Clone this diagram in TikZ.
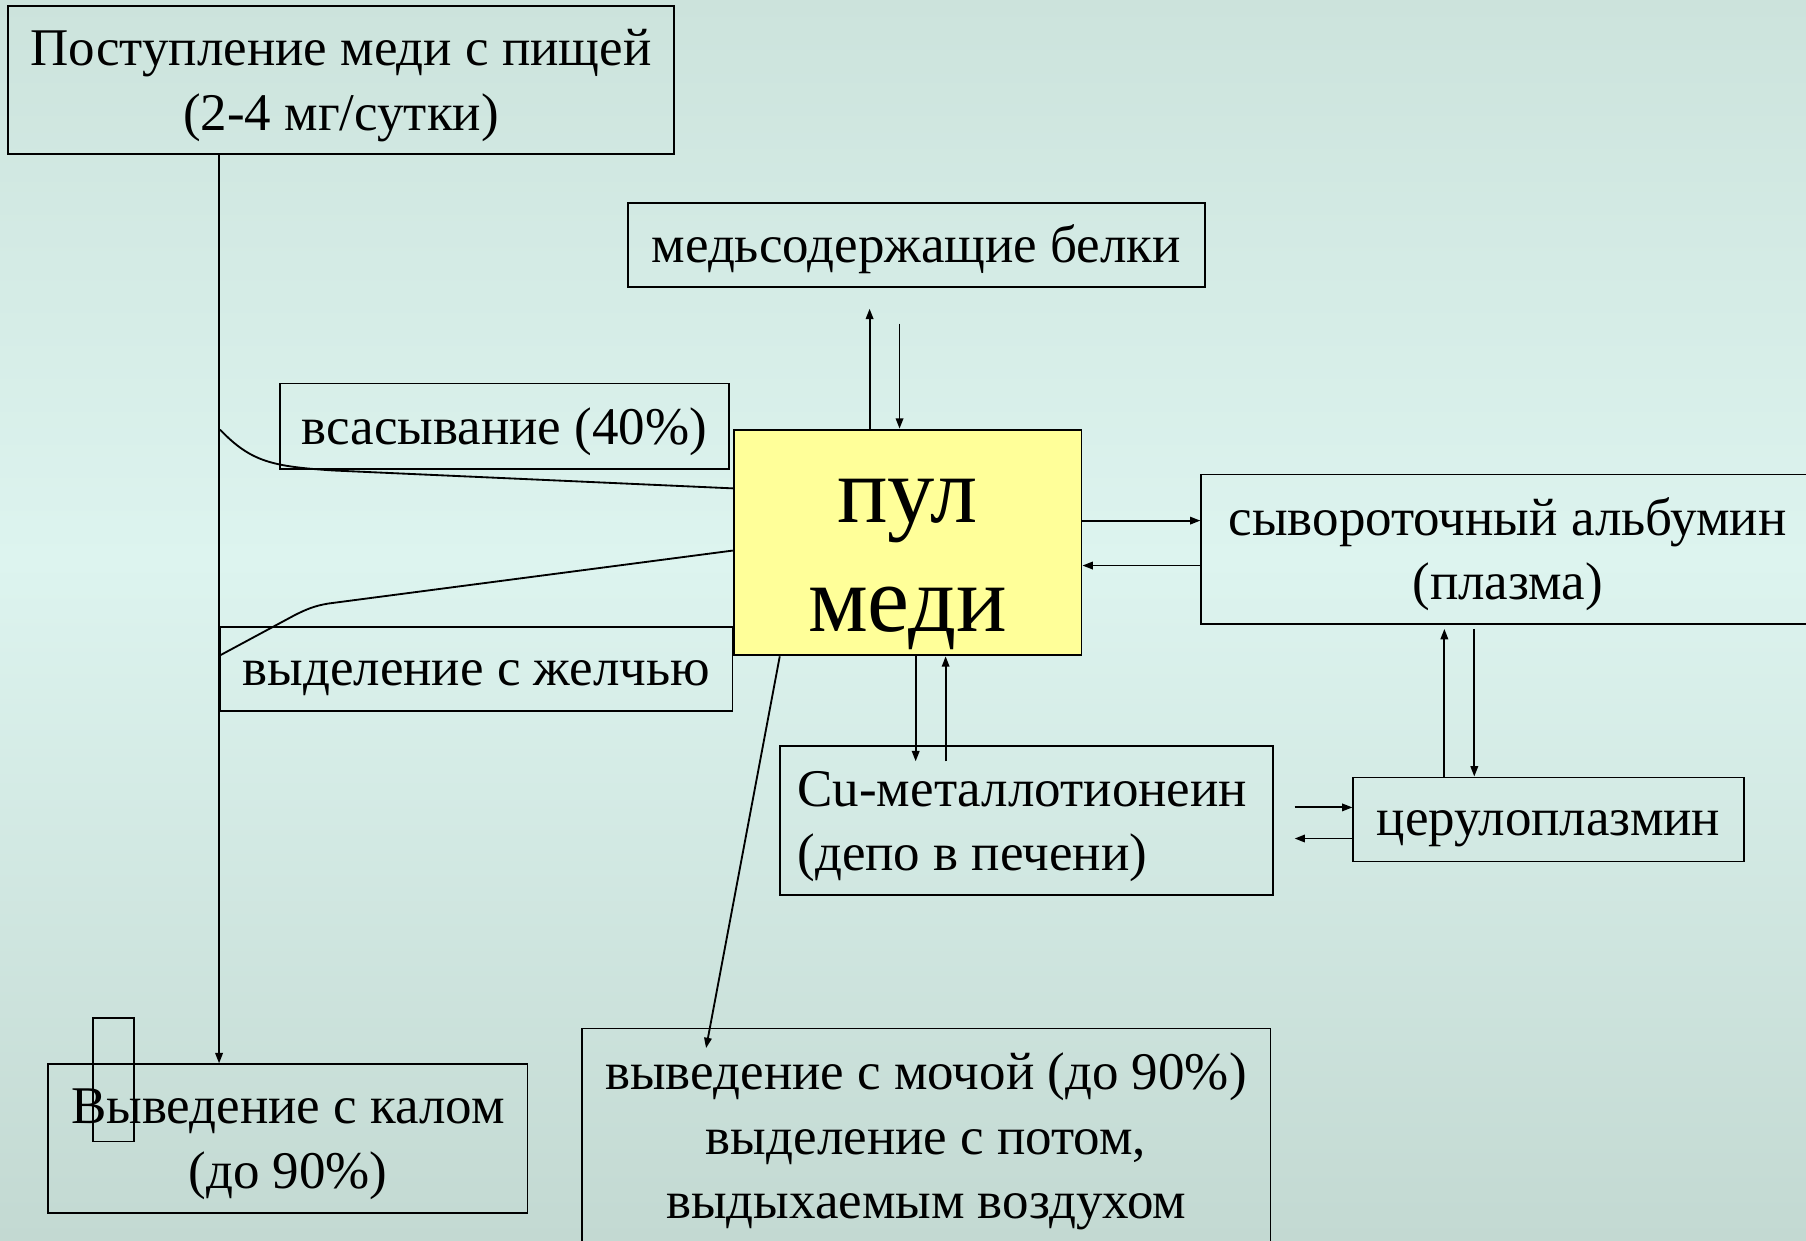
\documentclass[tikz,border=0pt]{standalone}
\usepackage{fontspec}
\setmainfont{Liberation Serif}
\usetikzlibrary{arrows.meta}
\definecolor{bgtop}{HTML}{CCE3DC}
\definecolor{bgmid}{HTML}{DDF4EF}
\definecolor{bgbot}{HTML}{C3D9D2}
\definecolor{poolfill}{HTML}{FFFF99}
\tikzset{
  frame/.style={draw=black, line width=1.6pt, rectangle, inner sep=0pt},
  txt/.style={inner sep=0pt, align=center, font=\fontsize{46}{56}\selectfont},
  bigtxt/.style={inner sep=0pt, align=center, font=\fontsize{82}{95}\selectfont},
  con/.style={draw=black, line width=1.6pt},
  arr/.style={con, -{Triangle[length=9pt,width=6.5pt]}},
}
\begin{document}
\begin{tikzpicture}[x=1pt,y=-1pt]
\useasboundingbox (0,0) rectangle (1568,1077);
\fill[top color=bgtop, bottom color=bgmid] (0,0) rectangle (1568,486);
\fill[top color=bgmid, bottom color=bgbot] (0,486) rectangle (1568,1077);

% frames
\node[frame, minimum width=578pt, minimum height=129pt] (food) at (296,69.5) {};
\node[frame, minimum width=501pt, minimum height=73pt] (proteins) at (795.5,212.5) {};
\node[frame, minimum width=390pt, minimum height=74pt] (absorb) at (438,370) {};
\node[frame, minimum width=302pt, minimum height=196pt, fill=poolfill] (pool) at (788,471) {};
\node[frame, minimum width=532pt, minimum height=130pt] (albumin) at (1309,477) {};
\node[frame, minimum width=445pt, minimum height=73pt] (bile) at (413.5,580.5) {};
\node[frame, minimum width=428pt, minimum height=129pt] (metallo) at (891,712.5) {};
\node[frame, minimum width=339pt, minimum height=73pt] (cerulo) at (1344.5,711.5) {};
\node[frame, minimum width=416pt, minimum height=129pt] (feces) at (250,988.5) {};
\node[frame, minimum width=598pt, minimum height=192pt] (urine) at (804,989) {};
\node[frame, minimum width=35pt, minimum height=107pt] (smallrect) at (98.5,937.5) {};

% texts
\node[txt] (foodT) at ([yshift=-5pt]food.center) {Поступление меди с пищей\\(2-4 мг/сутки)};
\node[txt] (proteinsT) at ([yshift=-4pt]proteins.center) {медьсодержащие белки};
\node[txt] (absorbT) at ([yshift=-5pt]absorb.center) {всасывание (40\%)};
\node[bigtxt] (poolT) at ([yshift=-19pt]pool.center) {пул\\меди};
\node[txt] (albuminT) at ([yshift=-4pt]albumin.center) {сывороточный альбумин\\(плазма)};
\node[txt] (bileT) at ([yshift=-8pt]bile.center) {выделение с желчью};
\node[txt, align=left, anchor=west] (metalloT) at ([xshift=16pt,yshift=-5pt]metallo.west)
  {Cu-металлотионеин\\(депо в печени)};
\node[txt] (ceruloT) at ([yshift=-8pt]cerulo.center) {церулоплазмин};
\node[txt] (fecesT) at ([yshift=-5pt]feces.center) {Выведение с калом\\(до 90\%)};
\node[txt] (urineT) at ([yshift=-2pt]urine.center)
  {выведение с мочой (до 90\%)\\выделение с потом,\\выдыхаемым воздухом};

% free ends
\coordinate (absStart) at (191,373);
\coordinate (bileEnd) at (191,569);
\coordinate (protUp) at (755,268);
\coordinate (protDown) at (781,281);
\coordinate (metDown) at (795,661);
\coordinate (metUp) at (821,661);
\coordinate (albUp) at (1254,546);
\coordinate (albDown) at (1280,546);
\coordinate (ceruR) at (1124,701);
\coordinate (ceruL) at (1124,728);
\coordinate (urineTip) at (613,910);

% connectors
\draw[arr] (food.south -| bile.west) -- (feces.north -| bile.west);
\draw[con] (absStart) .. controls (218,401) and (236,405) .. (290,408.5)
  -- (pool.west |- 0,424);
\draw[con] (pool.west |- 0,478) -- (285,524)
  .. controls (273,526) and (266,529) .. (256,534) -- (bileEnd);
\draw[arr] (pool.north -| protUp) -- (protUp);
\draw[arr] (protDown) -- (pool.north -| protDown);
\draw[arr] (pool.east |- 0,452) -- (albumin.west |- 0,452);
\draw[arr] (albumin.west |- 0,491) -- (pool.east |- 0,491);
\draw[arr] (pool.south -| metDown) -- (metDown);
\draw[arr] (metUp) -- (pool.south -| metUp);
\draw[arr] (cerulo.north -| albUp) -- (albUp);
\draw[arr] (albDown) -- (cerulo.north -| albDown);
\draw[arr] (ceruR) -- (cerulo.west |- ceruR);
\draw[arr] (cerulo.west |- ceruL) -- (ceruL);
\draw[arr] (pool.south -| 677,0) -- (urineTip);
\end{tikzpicture}
\end{document}
